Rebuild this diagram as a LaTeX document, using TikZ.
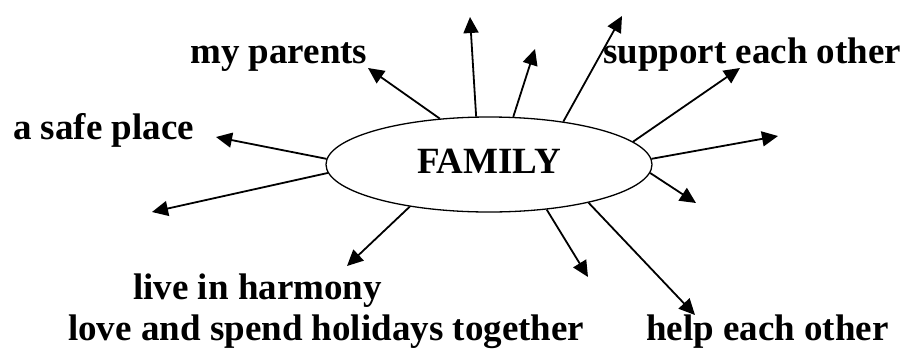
\documentclass[tikz,border=0pt]{standalone}
\usepackage{fontspec}
\setmainfont{Liberation Serif}
\usetikzlibrary{shapes.geometric,arrows.meta}

\begin{document}
\begin{tikzpicture}[x=1pt,y=-1pt,
	font=\fontsize{37}{44}\selectfont\bfseries,
	lbl/.style={anchor=base west,inner sep=0pt},
	arr/.style={line width=1.8pt,-{Triangle[length=16pt,width=15pt]}}]
\useasboundingbox (0,0) rectangle (906,349);
\node[draw,ellipse,line width=1.3pt,inner sep=0pt,text depth=7pt,minimum width=326pt,minimum height=95pt] (fam) at (489,164.5) {FAMILY};
\node[lbl] (par) at (190,63) {my parents};
\node[lbl] (sup) at (603,63) {support each other};
\node[lbl] (saf) at (13,139) {a safe place};
\node[lbl] (liv) at (133,299) {live in harmony};
\node[lbl] (lov) at (68,340) {love and spend holidays together};
\node[lbl] (hel) at (646,340) {help each other};
\coordinate (tpar) at (368,68);
\coordinate (tup) at (470,17);
\coordinate (tmid) at (535,49);
\coordinate (tsky) at (622,16);
\coordinate (tsup) at (740,68);
\coordinate (tright) at (778,136);
\coordinate (tdot) at (696,203);
\coordinate (tlow) at (588,277);
\coordinate (thel) at (695,315);
\coordinate (tliv) at (347,266);
\coordinate (tleft) at (152,212);
\coordinate (tsaf) at (216,137);
\foreach \a/\t in {137/tpar,105/tup,63/tmid,30/tsky,9/tsup,2/tright,-3.5/tdot,
	-38/tlow,-21/thel,-152.5/tliv,183.5/tleft,178.3/tsaf}
	\draw[arr] (fam.\a) -- (\t);
\end{tikzpicture}
\end{document}
